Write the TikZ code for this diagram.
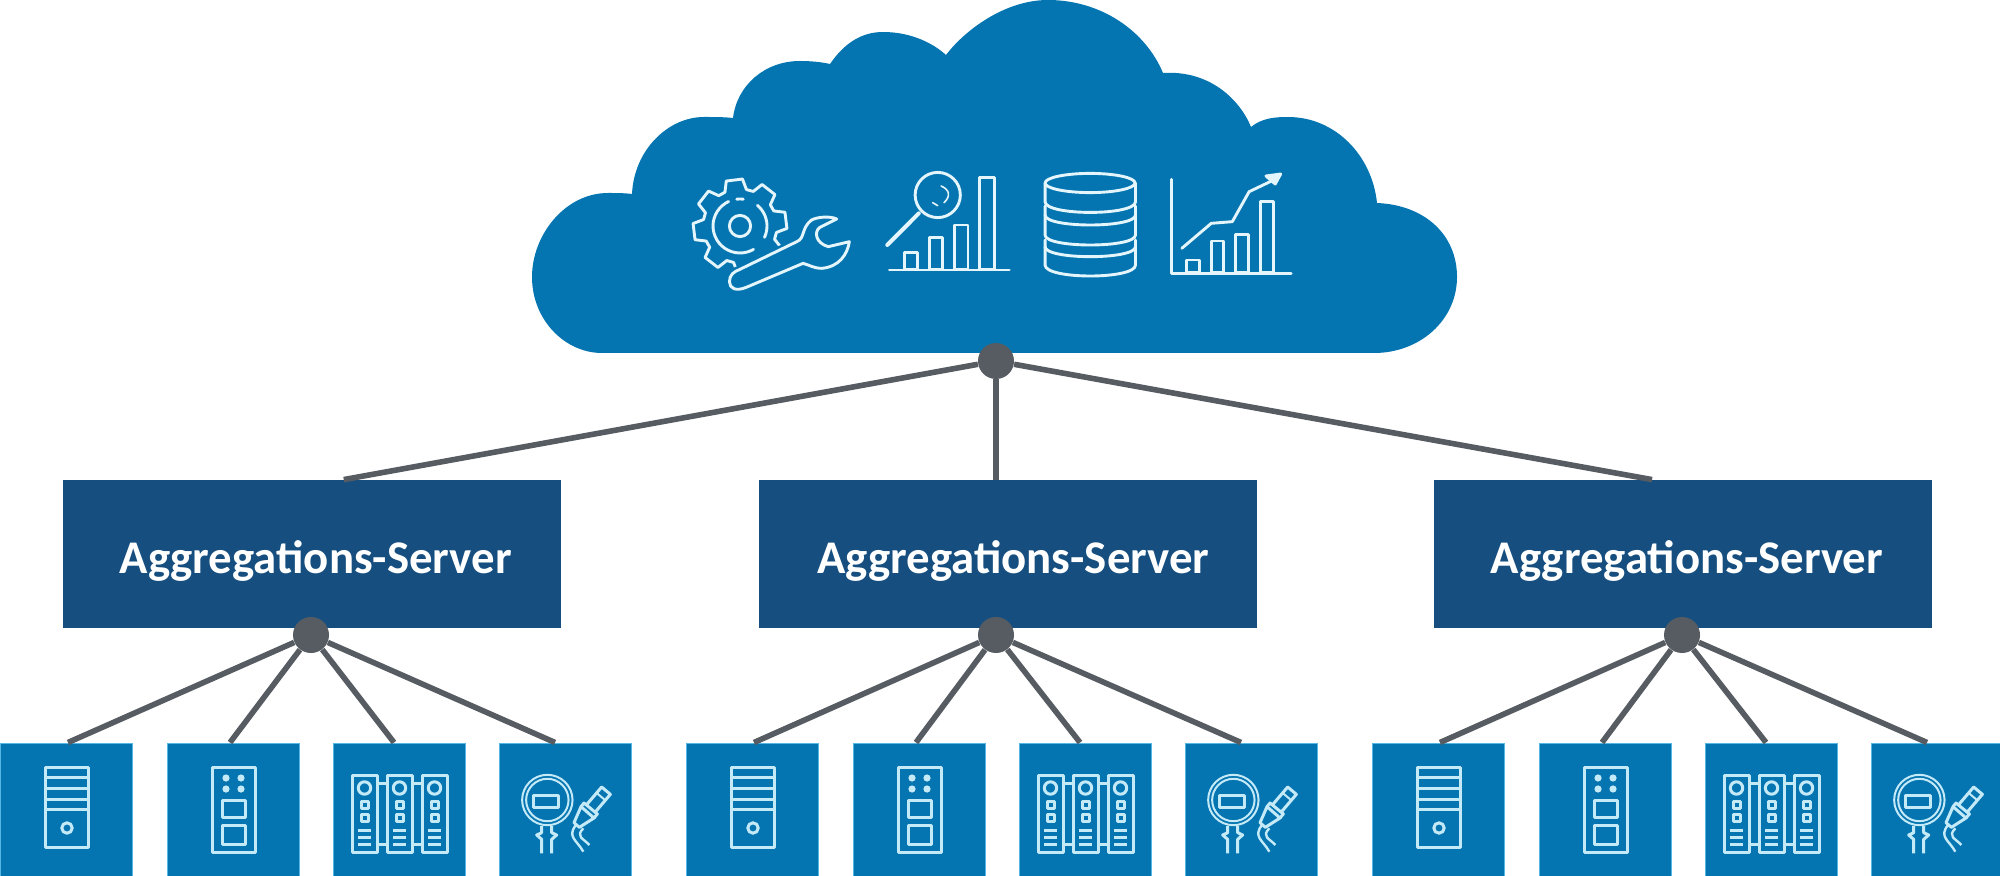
\documentclass[tikz,border=0pt]{standalone}
\usepackage{fontspec}
\setmainfont{Carlito}
\definecolor{cloudblue}{HTML}{0575B1}
\definecolor{serverblue}{HTML}{164F7F}
\definecolor{wiregray}{HTML}{565C62}
\definecolor{devedge}{HTML}{55B7E3}
\definecolor{iconline}{HTML}{C4EAF8}
\definecolor{cloudline}{HTML}{E4F5FB}
\tikzset{
  server/.style={fill=serverblue,text=white,minimum width=249pt,minimum height=74pt,inner sep=0pt,font=\bfseries\fontsize{23.4}{27}\selectfont},
  dev/.style={fill=cloudblue,draw=devedge,line width=0.5pt,minimum width=66pt,minimum height=72pt,inner sep=0pt},
  hub/.style={circle,fill=wiregray,minimum size=18pt,inner sep=0pt},
  wire/.style={draw=wiregray,line width=2.8pt},
  ico/.style={draw=iconline,line width=1.5pt,line join=round},
  cico/.style={draw=cloudline,line width=1.45pt,line join=round,line cap=round},
  pcicon/.pic={
    \draw[ico] (45,24) rectangle (88,104);
    \foreach \y in {34,45,56,66}{\draw[ico] (45,\y) -- (88,\y);}
    \draw[ico] (67,85) circle[radius=2.6pt];
  },
  switchicon/.pic={
    \draw[ico] (45,24) rectangle (88,109);
    \foreach \x in {59,74}{\foreach \y in {35,46}{\fill[iconline] (\x,\y) circle[radius=1.8pt];}}
    \draw[ico] (55,57) rectangle (78,74);
    \draw[ico] (55,82) rectangle (78,101);
  },
  rackicon/.pic={
    \foreach \x in {19,54,89}{
      \draw[ico] (\x,32) rectangle ++(25,77);
      \draw[ico] (\x+12.5,45) circle[radius=3.1pt];
      \draw[ico] (\x+9,58) rectangle ++(7,7);
      \draw[ico] (\x+9,71) rectangle ++(7,7);
      \foreach \y in {87,94,101}{\draw[ico] (\x+6,\y) -- ++(13,0);}
    }
    \foreach \x in {44,79}{
      \draw[ico] (\x,40) -- ++(10,0);
      \draw[ico] (\x,101) -- ++(10,0);
    }
  },
  metericon/.pic={
    \begin{scope}[shift={(-179,-23)},x=0.1666667pt,y=-0.1666667pt]
      \draw[ico,line width=1pt] (682,240) circle[radius=12.6pt];
      \draw[ico,line width=1pt] (682,240) circle[radius=10.6pt];
      \draw[ico] (640,225) rectangle (715,262);
      \draw[ico] (665,318) -- (665,338) -- (650,345) -- (665,358) -- (665,400);
      \draw[ico] (695,318) -- (695,338) -- (710,345) -- (695,358) -- (695,400);
      \draw[ico] (762,308) -- (783,260) -- (822,294) -- (778,322) -- cycle;
      \draw[ico] (783,260) -- (792,249) -- (832,282) -- (822,294);
      \draw[ico] (799,255) -- (845,201) -- (871,223) -- (825,277);
      \draw[ico,line width=1pt] (830,219) -- (856,241);
      \draw[ico,line width=1.2pt] (768,315) .. controls (740,350) and (770,360) .. (790,395);
      \draw[ico,line width=1.2pt] (790,325) .. controls (765,350) and (790,355) .. (808,375);
    \end{scope}
  }
}
\begin{document}
\begin{tikzpicture}[x=0.5pt,y=-0.5pt]
\useasboundingbox (0,0) rectangle (2000,876);
\clip (0,0) rectangle (2000,876);
\fill[white] (0,0) rectangle (2000,876);
% cloud
\fill[cloudblue] (602,353)
  .. controls (565,353) and (532,320) .. (532,277)
  .. controls (532,235) and (565,193) .. (608,193)
  .. controls (616,193) and (624,193) .. (632,194)
  .. controls (634,150) and (668,117) .. (704,117)
  .. controls (714,117) and (724,117) .. (733,118)
  .. controls (737,85) and (765,61) .. (800,61)
  .. controls (811,61) and (821,62) .. (830,64)
  .. controls (843,45) and (860,32) .. (883,32)
  .. controls (912,32) and (934,44) .. (946,55)
  .. controls (965,30) and (1005,0) .. (1048,0)
  .. controls (1100,0) and (1145,30) .. (1163,73)
  .. controls (1210,70) and (1240,100) .. (1251,127)
  .. controls (1262,118) and (1275,117) .. (1288,117)
  .. controls (1335,117) and (1372,155) .. (1377,203)
  .. controls (1425,205) and (1457,235) .. (1457,277)
  .. controls (1457,320) and (1420,353) .. (1374,353)
  -- cycle;
% gear
\draw[cico] ({740+37*cos(80)},{226-37*sin(80)})
  \foreach \a in {97,142,187,232,277,322,367,412}{
    -- ({740+37*cos(\a-17)},{226-37*sin(\a-17)})
    -- ({740+47*cos(\a-10)},{226-47*sin(\a-10)})
    -- ({740+47*cos(\a+10)},{226-47*sin(\a+10)})
    -- ({740+37*cos(\a+17)},{226-37*sin(\a+17)})
  } -- cycle;
\draw[cico] (740,226) circle[radius=5.3pt];
\draw[cico] plot[smooth,domain=115:300,samples=24] ({740+27*cos(\x)},{226-27*sin(\x)});
\draw[cico] plot[smooth,domain=50:-25,samples=12] ({740+27*cos(\x)},{226-27*sin(\x)});
\draw[cico] plot[smooth,domain=97:83,samples=4] ({740+27*cos(\x)},{226-27*sin(\x)});
% icons in zoomed coordinates
\begin{scope}[shift={(660,140)},x=0.2104pt,y=-0.1666667pt]
  % wrench
  \path[cico,fill=cloudblue,draw=cloudblue,line width=4pt]
    (165,425) .. controls (165,405) and (175,395) .. (190,388) -- (325,305)
    .. controls (345,295) and (335,265) .. (360,240) .. controls (375,230) and (405,228) .. (420,237)
    -- (380,262) .. controls (365,275) and (370,310) .. (400,320) -- (450,305)
    .. controls (445,345) and (425,380) .. (385,385) .. controls (365,385) and (355,375) .. (340,370)
    -- (205,442) .. controls (180,455) and (165,445) .. (165,425) -- cycle;
  \draw[cico,fill=cloudblue]
    (165,425) .. controls (165,405) and (175,395) .. (190,388) -- (325,305)
    .. controls (345,295) and (335,265) .. (360,240) .. controls (375,230) and (405,228) .. (420,237)
    -- (380,262) .. controls (365,275) and (370,310) .. (400,320) -- (450,305)
    .. controls (445,345) and (425,380) .. (385,385) .. controls (365,385) and (355,375) .. (340,370)
    -- (205,442) .. controls (180,455) and (165,445) .. (165,425) -- cycle;
  % magnifier chart
  \draw[cico] (545,390) -- (830,390);
  \draw[cico] (580,388) rectangle (612,338);
  \draw[cico] (640,388) rectangle (672,293);
  \draw[cico] (700,388) rectangle (732,255);
  \draw[cico] (760,388) rectangle (795,112);
  \draw[cico] (660,165) ellipse[x radius=11.3pt,y radius=11.3pt];
  \draw[cico,line width=2pt] (615,220) -- (540,315);
  \draw[cico,line width=0.8pt] (668,138) .. controls (690,150) and (690,170) .. (675,188);
  \draw[cico,line width=0.8pt] (648,188) -- (660,197);
  % database
  \draw[cico] (1022,129) ellipse[x radius=22.5pt,y radius=4.8pt];
  \draw[cico] (915,129) -- (915,185) .. controls (915,228) and (1130,228) .. (1130,185) -- (1130,129);
  \draw[cico] (915,198) -- (915,285) .. controls (915,325) and (1130,325) .. (1130,285) -- (1130,198);
  \draw[cico] (915,225) .. controls (915,265) and (1130,265) .. (1130,225);
  \draw[cico] (915,300) -- (915,375) .. controls (915,419) and (1130,419) .. (1130,375) -- (1130,300);
  \draw[cico] (915,320) .. controls (915,360) and (1130,360) .. (1130,320);
  % growth chart
  \draw[cico] (1215,118) -- (1215,400) -- (1500,400);
  \draw[cico] (1252,398) rectangle (1282,360);
  \draw[cico] (1310,398) rectangle (1340,303);
  \draw[cico] (1368,398) rectangle (1398,283);
  \draw[cico] (1428,398) rectangle (1458,185);
  \draw[cico] (1240,325) -- (1310,250) -- (1360,245) -- (1400,155) -- (1455,122);
  \filldraw[cico,fill=cloudline] (1475,102) -- (1440,108) -- (1462,132) -- cycle;
\end{scope}
% servers
\node[server] (s1) at (311.75,554) {\hspace*{4pt}\raisebox{-9.5pt}[0pt][0pt]{Aggregations-Server}};
\node[server] (s2) at (1007.5,554) {\hspace*{6pt}\raisebox{-9.5pt}[0pt][0pt]{Aggregations-Server}};
\node[server] (s3) at (1683,554) {\hspace*{4pt}\raisebox{-9.5pt}[0pt][0pt]{Aggregations-Server}};
% hubs
\node[hub] (top) at (996,361) {};
\node[hub] (h1) at (311,635) {};
\node[hub] (h2) at (996,635) {};
\node[hub] (h3) at (1682,635) {};
\draw[wire] (top) -- ([xshift=16pt]s1.north);
\draw[wire] (top) -- (top |- s2.north);
\draw[wire] (top) -- ([xshift=-15.5pt]s3.north);
% devices
\foreach \g/\o in {1/0,2/686,3/1372}{
  \node[dev] (d\g a) at ({\o+66.5},815) {};
  \node[dev] (d\g b) at ({\o+233},815) {};
  \node[dev] (d\g c) at ({\o+399.5},815) {};
  \node[dev] (d\g d) at ({\o+565.5},815) {};
  \pic at ({\o},743) {pcicon};
  \pic at ({\o+167},743) {switchicon};
  \pic at ({\o+333},743) {rackicon};
  \pic at ({\o+499},743) {metericon};
  \draw[wire] (h\g) -- ([xshift=0.75pt]d\g a.north);
  \draw[wire] (h\g) -- ([xshift=-1.5pt]d\g b.north);
  \draw[wire] (h\g) -- ([xshift=-2.75pt]d\g c.north);
  \draw[wire] (h\g) -- ([xshift=-5.25pt]d\g d.north);
}
\end{tikzpicture}
\end{document}
